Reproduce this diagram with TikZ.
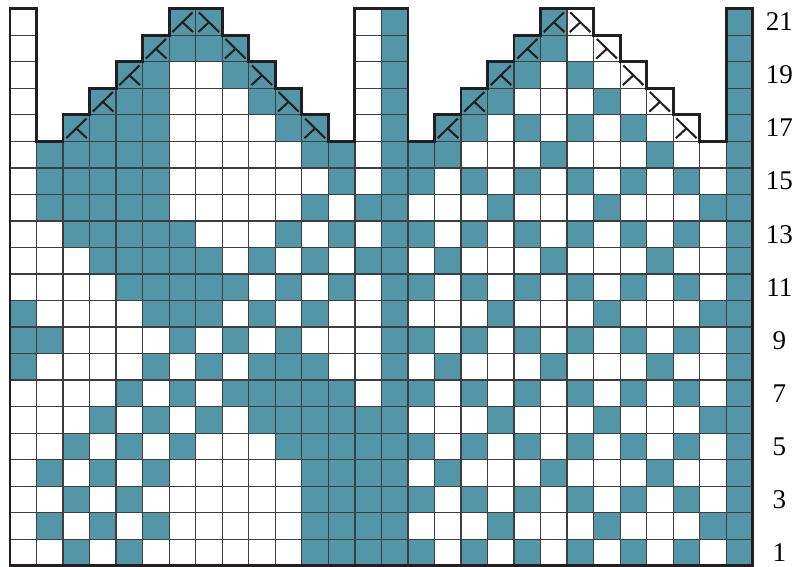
\documentclass[tikz,border=0pt]{standalone}
\usepackage{fontspec}
\setmainfont{Liberation Serif}
\definecolor{tealc}{RGB}{82,150,167}
\definecolor{gridc}{RGB}{62,62,62}
\definecolor{outc}{RGB}{35,31,32}
\tikzset{
  gridline/.style={draw=gridc,line width=0.7pt},
  outline/.style={draw=outc,line width=1.5pt,line join=miter},
  decstroke/.style={draw=outc,line width=1.1pt},
  lbl/.style={font=\fontsize{14.5}{16}\selectfont,inner sep=0pt,anchor=center}
}
\newcommand\decL[2]{%
  \draw[decstroke] (#1-1+0.12,#2-1+0.12) -- (#1-1+0.88,#2-1+0.86);
  \draw[decstroke] (#1-1+0.5,#2-1+0.49) -- (#1-1+0.9,#2-1+0.12);}
\newcommand\decR[2]{%
  \draw[decstroke] (#1-1+0.12,#2-1+0.86) -- (#1-1+0.88,#2-1+0.12);
  \draw[decstroke] (#1-1+0.5,#2-1+0.49) -- (#1-1+0.1,#2-1+0.12);}
\begin{document}
\begin{tikzpicture}[x=0.5cm,y=0.5cm]
\useasboundingbox (-0.377,-0.03) rectangle (29.665,21.328);
% teal cells
\foreach \r/\cs in {
 1/{3,5,12,13,14,15,16,18,20,22,24,26,28},
 2/{2,4,6,12,13,14,15,19,23,27,28},
 3/{3,5,12,13,14,15,16,18,20,22,24,26,28},
 4/{2,4,6,12,13,14,15,17,21,25,28},
 5/{3,5,7,11,12,13,14,15,16,18,20,22,24,26,28},
 6/{4,6,8,10,11,12,13,14,15,19,23,27,28},
 7/{5,7,9,10,11,12,13,15,16,18,20,22,24,26,28},
 8/{1,6,8,10,11,12,15,17,21,25,28},
 9/{1,2,7,9,11,15,16,18,20,22,24,26,28},
 10/{1,6,7,8,10,12,15,19,23,27,28},
 11/{5,6,7,8,9,11,13,15,16,18,20,22,24,26,28},
 12/{4,5,6,7,8,10,12,14,15,17,21,25,28},
 13/{3,4,5,6,7,11,13,15,16,18,20,22,24,26,28},
 14/{2,3,4,5,6,12,14,15,19,23,27,28},
 15/{2,3,4,5,6,13,15,16,18,20,22,24,26,28},
 16/{2,3,4,5,6,12,13,15,16,17,21,25,28},
 17/{3,4,5,6,11,12,15,17,18,20,22,24,28},
 18/{4,5,6,10,11,15,18,19,23,28},
 19/{5,6,9,10,15,19,20,22,28},
 20/{6,7,8,9,15,20,21,28},
 21/{7,8,15,21,28}}{
  \foreach \c in \cs {\fill[tealc] (\c-1,\r-1) rectangle (\c,\r);}
}
% grid lines
\draw[gridline,step=0.5cm] (0,0) grid (28,16);
\foreach \r/\cs in {
 17/{1,3,4,5,6,7,8,9,10,11,12,14,15,17,18,19,20,21,22,23,24,25,26,28},
 18/{1,4,5,6,7,8,9,10,11,14,15,18,19,20,21,22,23,24,25,28},
 19/{1,5,6,7,8,9,10,14,15,19,20,21,22,23,24,28},
 20/{1,6,7,8,9,14,15,20,21,22,23,28},
 21/{1,7,8,14,15,21,22,28}}{
  \foreach \c in \cs {\draw[gridline] (\c-1,\r-1) rectangle (\c,\r);}
}
% decrease symbols
\decL{3}{17}\decL{4}{18}\decL{5}{19}\decL{6}{20}\decL{7}{21}
\decR{8}{21}\decR{9}{20}\decR{10}{19}\decR{11}{18}\decR{12}{17}
\decL{17}{17}\decL{18}{18}\decL{19}{19}\decL{20}{20}\decL{21}{21}
\decR{22}{21}\decR{23}{20}\decR{24}{19}\decR{25}{18}\decR{26}{17}
% outline
\draw[outline] (0,21) -- (1,21) -- (1,16) -- (2,16) -- (2,17) -- (3,17) -- (3,18) -- (4,18) -- (4,19) -- (5,19) -- (5,20) -- (6,20) -- (6,21) -- (8,21) -- (8,20) -- (9,20) -- (9,19) -- (10,19) -- (10,18) -- (11,18) -- (11,17) -- (12,17) -- (12,16) -- (13,16) -- (13,21) -- (15,21) -- (15,16) -- (16,16) -- (16,17) -- (17,17) -- (17,18) -- (18,18) -- (18,19) -- (19,19) -- (19,20) -- (20,20) -- (20,21) -- (22,21) -- (22,20) -- (23,20) -- (23,19) -- (24,19) -- (24,18) -- (25,18) -- (25,17) -- (26,17) -- (26,16) -- (27,16) -- (27,21) -- (28,21) -- (28,0) -- (0,0) -- cycle;
% row labels
\foreach \r in {1,3,...,21}{
  \node[lbl] (lab\r) at (29.0,\r-0.5) {\r};
}
\end{tikzpicture}
\end{document}
